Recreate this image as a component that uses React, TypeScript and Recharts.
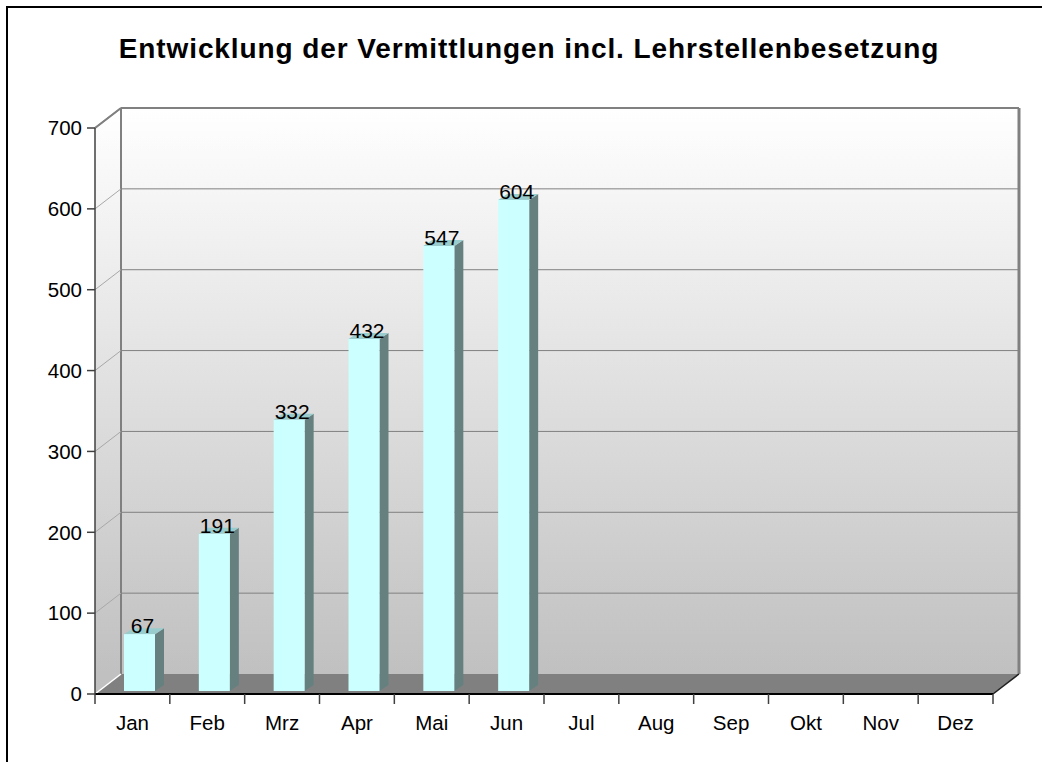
import React from 'react';
import { BarChart, Bar, XAxis, YAxis, CartesianGrid, ReferenceArea, LabelList } from 'recharts';

const chartTitle = 'Entwicklung der Vermittlungen incl. Lehrstellenbesetzung';
const months = ['Jan', 'Feb', 'Mrz', 'Apr', 'Mai', 'Jun', 'Jul', 'Aug', 'Sep', 'Okt', 'Nov', 'Dez'];
const vermittlungen: (number | null)[] = [67, 191, 332, 432, 547, 604, null, null, null, null, null, null];
const yTicks = [0, 100, 200, 300, 400, 500, 600, 700];

const data = months.map((m, i) => ({ month: m, value: vermittlungen[i] }));

const FONT = '"Liberation Sans", Arial, Helvetica, sans-serif';
const DX = 26;
const DY = -20;
const BAR_DX = 7;
const BAR_TOP = -5.7;
const BAR_BOTTOM = -3;
const SIDE_X = 9;
const SIDE_Y = -6;
const X_TICK_SIZE = 10;
const X_TICK_MARGIN = 11;

const Walls = (p: any) => {
  const { x, y, width: w, height: h } = p;
  if (x == null || y == null) return null;
  const bx = x + DX;
  const by = y + DY;
  return (
    <g>
      <defs>
        <linearGradient id="wallGrad" gradientUnits="userSpaceOnUse" x1={0} y1={by} x2={0} y2={by + h}>
          <stop offset="0%" stopColor="#ffffff" />
          <stop offset="100%" stopColor="#c0c0c0" />
        </linearGradient>
      </defs>
      <polygon points={`${x},${y} ${bx},${by} ${bx},${by + h} ${x},${y + h}`} fill="url(#wallGrad)" />
      <rect x={bx} y={by} width={w} height={h} fill="url(#wallGrad)" />
      <polygon points={`${x},${y + h} ${bx},${by + h} ${bx + w},${by + h} ${x + w},${y + h}`} fill="#808080" />
      <line x1={bx} y1={by} x2={bx} y2={by + h} stroke="#808080" strokeWidth={2} />
      <line x1={bx} y1={by} x2={bx + w} y2={by} stroke="#808080" strokeWidth={2} />
      <line x1={bx + w} y1={by} x2={bx + w} y2={by + h} stroke="#808080" strokeWidth={3} />
      <line x1={x} y1={y} x2={bx} y2={by} stroke="#808080" strokeWidth={2} />
      <line x1={x + w} y1={y + h} x2={bx + w} y2={by + h} stroke="#202020" strokeWidth={1.5} />
    </g>
  );
};

const gridLine = (p: any) => {
  const { x1, x2, y1, key } = p;
  const top = p.y;
  const bottom = p.y + p.height;
  const isBottom = Number.isFinite(bottom) && Math.abs(y1 - bottom) < 0.5;
  const isTop = Number.isFinite(top) && Math.abs(y1 - top) < 0.5;
  return (
    <g key={key}>
      <line
        x1={x1}
        y1={y1}
        x2={x1 + DX}
        y2={y1 + DY}
        stroke={isBottom ? '#ffffff' : isTop ? '#808080' : '#a8a8a8'}
        strokeWidth={isTop || isBottom ? 1.5 : 1}
      />
      {!isBottom && <line x1={x1 + DX} y1={y1 + DY} x2={x2 + DX} y2={y1 + DY} stroke="#808080" strokeWidth={isTop ? 2 : 1} />}
    </g>
  );
};

const Bar3D = (p: any) => {
  const { x, y, width, height } = p;
  if (x == null || y == null || !height) return null;
  const fx = x + BAR_DX;
  const top = y + BAR_TOP;
  const bottom = y + height + BAR_BOTTOM;
  return (
    <g>
      <polygon
        points={`${fx + width},${top} ${fx + width + SIDE_X},${top + SIDE_Y} ${fx + width + SIDE_X},${bottom + SIDE_Y} ${fx + width},${bottom}`}
        fill="#668080"
      />
      <polygon
        points={`${fx},${top} ${fx + SIDE_X},${top + SIDE_Y} ${fx + width + SIDE_X},${top + SIDE_Y} ${fx + width},${top}`}
        fill="#99cccc"
      />
      <rect x={fx} y={top} width={width} height={bottom - top} fill="#ccffff" />
    </g>
  );
};

const BarLabel = (p: any) => {
  const { x, y, width, value } = p;
  if (value == null || x == null) return null;
  return (
    <text x={Number(x) + Number(width) / 2 + BAR_DX + 3} y={Number(y) + BAR_TOP - 1} textAnchor="middle" fontSize={21} fill="#000" fontFamily={FONT}>
      {value}
    </text>
  );
};

const MonthTick = (p: any) => {
  const { x, y, payload, index, visibleTicksCount, width } = p;
  const bw = width / visibleTicksCount;
  const axisY = y - X_TICK_SIZE - X_TICK_MARGIN;
  const last = index === visibleTicksCount - 1;
  return (
    <g>
      <line x1={x - bw / 2} y1={axisY} x2={x - bw / 2} y2={axisY + 10} stroke="#404040" strokeWidth={1.5} />
      {last && <line x1={x + bw / 2} y1={axisY} x2={x + bw / 2} y2={axisY + 10} stroke="#404040" strokeWidth={1.5} />}
      <text x={x} y={y} dy="0.71em" textAnchor="middle" fontSize={20.5} fill="#000" fontFamily={FONT}>
        {payload.value}
      </text>
    </g>
  );
};

export default function App() {
  return (
    <div style={{ position: 'absolute', left: 0, top: 0, width: 1042, height: 762, background: '#ffffff', overflow: 'hidden' }}>
      <BarChart width={1042} height={762} data={data} margin={{ top: 128, right: 49, bottom: 38, left: 35 }}>
        <ReferenceArea y1={0} y2={700} shape={Walls} zIndex={-200} ifOverflow="visible" />
        <CartesianGrid vertical={false} horizontal={gridLine} />
        <XAxis
          dataKey="month"
          axisLine={{ stroke: '#000', strokeWidth: 2 }}
          tickLine={false}
          tickSize={X_TICK_SIZE}
          tickMargin={X_TICK_MARGIN}
          tick={<MonthTick />}
          height={30}
          interval={0}
        />
        <YAxis
          domain={[0, 700]}
          ticks={yTicks}
          width={60}
          axisLine={{ stroke: '#404040', strokeWidth: 1.5 }}
          tickLine={{ stroke: '#404040', strokeWidth: 1.5 }}
          tickSize={8}
          tickMargin={5}
          tick={{ fontSize: 20.5, fill: '#000', fontFamily: FONT }}
          interval={0}
        />
        <Bar dataKey="value" barSize={31} shape={Bar3D} isAnimationActive={false}>
          <LabelList dataKey="value" content={BarLabel} />
        </Bar>
      </BarChart>
      <svg width={1042} height={762} style={{ position: 'absolute', left: 0, top: 0, pointerEvents: 'none' }}>
        <line x1={7} y1={6} x2={7} y2={762} stroke="#000" strokeWidth={2} />
        <line x1={6} y1={7} x2={1042} y2={7} stroke="#000" strokeWidth={2} />
        <text x={529} y={58} textAnchor="middle" fontSize={28} fontWeight="bold" letterSpacing={0.9} fill="#000" fontFamily={FONT}>
          {chartTitle}
        </text>
      </svg>
    </div>
  );
}
